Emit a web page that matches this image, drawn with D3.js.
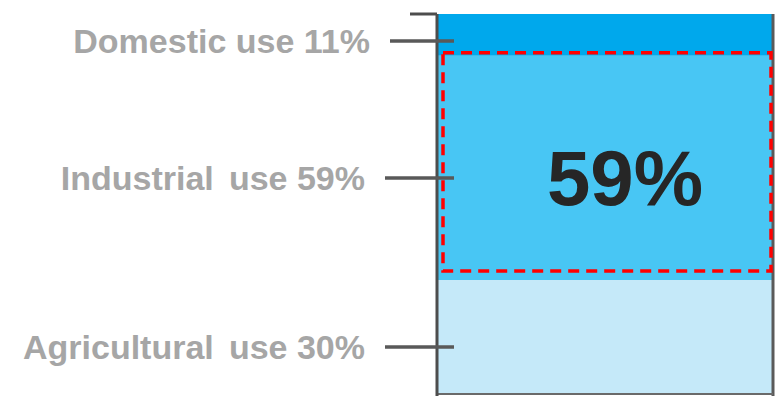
<!DOCTYPE html>
<html>
<head>
<meta charset="utf-8">
<script src="https://cdn.jsdelivr.net/npm/d3@7"></script>
<style>
  body { margin: 0; background: #fff; }
  text { font-family: "Liberation Sans", Arial, sans-serif; font-weight: bold; }
</style>
</head>
<body>
<div id="chart"></div>
<script>
// Water use shares (top to bottom in the stacked bar)
var categories = ["Domestic use", "Industrial use", "Agricultural use"];
var labelNames = ["Domestic use 11%", "Industrial\u200A\u200A use 59%", "Agricultural\u200A\u200A use 30%"];
var shares = [11, 59, 30];
var colors = ["#00a8ec", "#48c6f4", "#c5e9f9"];
var highlight = "59%";

(function (d3) {
    "use strict";

    var width = 776, height = 396;
    var barLeft = 437, barRight = 773;

    var svg = d3.select("#chart").append("svg")
        .attr("width", width)
        .attr("height", height);

    // stack the shares from the top
    var acc = 0;
    var segs = shares.map(function (v, i) {
        var s = { name: categories[i], label: labelNames[i], y0: acc, y1: acc + v, color: colors[i] };
        acc += v;
        return s;
    });

    var y = d3.scaleLinear().domain([0, 100]).range([14, 394]);

    // bar segments
    svg.selectAll("rect.seg")
        .data(segs)
        .enter().append("rect")
        .attr("class", "seg")
        .attr("x", barLeft)
        .attr("width", barRight - barLeft)
        .attr("y", function (d) { return y(d.y0); })
        .attr("height", function (d) { return y(d.y1) - y(d.y0); })
        .attr("fill", function (d) { return d.color; });

    // right and bottom border
    svg.append("line")
        .attr("x1", barRight).attr("x2", barRight)
        .attr("y1", y(0)).attr("y2", height)
        .attr("stroke", "#5a5a5a").attr("stroke-width", 3);
    svg.append("line")
        .attr("x1", barLeft).attr("x2", barRight)
        .attr("y1", y(100)).attr("y2", y(100))
        .attr("stroke", "#6a6a6a").attr("stroke-width", 2);

    // highlight box around the industrial share
    var ind = segs[1];
    svg.append("rect")
        .attr("x", barLeft + 6)
        .attr("y", y(ind.y0) - 3)
        .attr("width", barRight - barLeft - 8)
        .attr("height", y(ind.y1) - y(ind.y0) - 6)
        .attr("fill", "none")
        .attr("stroke", "#ff0000")
        .attr("stroke-width", 3.5)
        .attr("stroke-dasharray", "11,7");

    svg.append("text")
        .attr("x", (barLeft + barRight) / 2 + 20)
        .attr("y", (y(ind.y0) + y(ind.y1)) / 2 + 37)
        .attr("text-anchor", "middle")
        .attr("font-size", 78)
        .attr("fill", "#262626")
        .text(highlight);

    // axis line and top tick
    svg.append("line")
        .attr("x1", barLeft).attr("x2", barLeft)
        .attr("y1", y(0)).attr("y2", height)
        .attr("stroke", "#4d4d4d").attr("stroke-width", 3);
    svg.append("line")
        .attr("x1", barLeft - 27).attr("x2", barLeft)
        .attr("y1", y(0)).attr("y2", y(0))
        .attr("stroke", "#4d4d4d").attr("stroke-width", 3);

    // category ticks and labels
    var tickY = function (d, i) { return y((d.y0 + d.y1) / 2) + (i === 0 ? 6 : 10); };

    svg.selectAll("line.tick")
        .data(segs)
        .enter().append("line")
        .attr("class", "tick")
        .attr("x1", function (d, i) { return barLeft - (i === 0 ? 47 : 52); })
        .attr("x2", barLeft + 17)
        .attr("y1", tickY).attr("y2", tickY)
        .attr("stroke", "#595959").attr("stroke-width", 3.5);

    svg.selectAll("text.lab")
        .data(segs)
        .enter().append("text")
        .attr("class", "lab")
        .attr("x", function (d, i) { return i === 0 ? 370 : 365; })
        .attr("y", tickY)
        .attr("dy", "0.36em")
        .attr("text-anchor", "end")
        .attr("font-size", 34)
        .attr("fill", "#a6a6a6")
        .style("white-space", "pre")
        .text(function (d) { return d.label; });

})(d3);
</script>
</body>
</html>
